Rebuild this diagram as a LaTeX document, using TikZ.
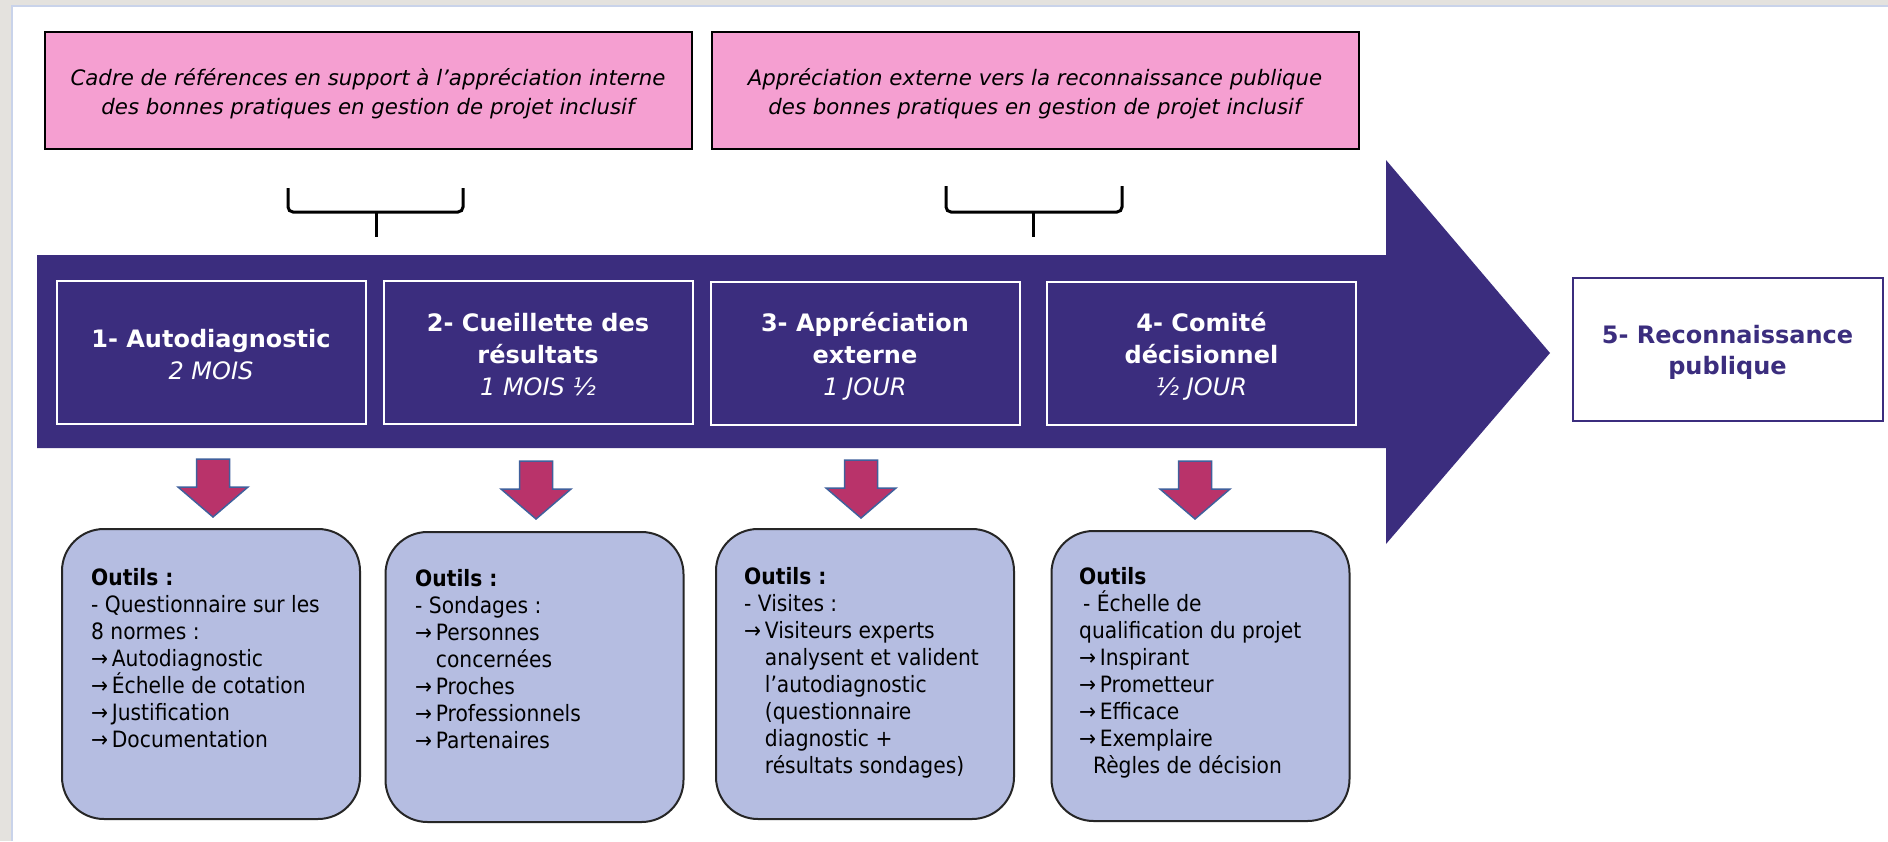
\documentclass[tikz,border=0pt]{standalone}
\usepackage{fontspec}
\setmainfont{DejaVu Sans}
\newfontfamily\condfont{DejaVu Sans Condensed}
\definecolor{pinkfill}{HTML}{F59FD1}
\definecolor{purp}{HTML}{3B2D7E}
\definecolor{toolfill}{HTML}{B5BDE1}
\definecolor{arrowred}{HTML}{B9336A}
\definecolor{arrowedge}{HTML}{40609C}
\definecolor{framegrey}{HTML}{E4E2DE}
\definecolor{frameline}{HTML}{C9D3EA}
\tikzset{
  pinkbox/.style={draw=black, line width=2pt, fill=pinkfill, minimum width=647pt, minimum height=117pt, align=center,
    font=\fontsize{21.3}{28.5}\selectfont\itshape},
  stepbox/.style={draw=white, line width=2pt, fill=purp, minimum width=309pt, minimum height=143pt, align=center, text=white,
    font=\fontsize{24}{32}\selectfont},
  finalbox/.style={draw=purp, line width=2pt, fill=white, minimum width=310pt, minimum height=143pt, align=center, text=purp,
    font=\fontsize{24}{31}\selectfont\bfseries},
  toolbox/.style={draw=black!85, line width=2pt, fill=toolfill, rounded corners=42pt, minimum width=298pt, minimum height=290pt},
  tooltext/.style={anchor=north west, inner sep=0pt, align=left, font=\condfont\fontsize{22.5}{27}\selectfont},
  bracepath/.style={draw=black, line width=3pt, rounded corners=5pt},
  downarr/.pic={\filldraw[fill=arrowred, draw=arrowedge, line width=1.5pt, line join=miter]
     (-16.5,0) -- (16.5,0) -- (16.5,28) -- (35,28) -- (0,58) -- (-35,28) -- (-16.5,28) -- cycle;}
}
\newcommand{\ind}{\phantom{→\,}}
\begin{document}
\begin{tikzpicture}[x=1pt,y=-1pt]
\useasboundingbox (0,0) rectangle (1888,841);
\fill[framegrey] (0,0) rectangle (1888,841);
\fill[white] (12,6) rectangle (1888,841);
\draw[frameline, line width=1.5pt] (12,841) -- (12,6) -- (1888,6);

% top pink boxes
\node[pinkbox] (ref1) at (368,90.5) {};
\node[pinkbox, draw=none, fill=none] (ref1t) at (368,93.5) {Cadre de références en support à l’appréciation interne\\des bonnes pratiques en gestion de projet inclusif};
\node[pinkbox] (ref2) at (1035,90.5) {};
\node[pinkbox, draw=none, fill=none] (ref2t) at (1035,93.5) {Appréciation externe vers la reconnaissance publique\\des bonnes pratiques en gestion de projet inclusif};

% braces
\coordinate (b1l) at (288,188); \coordinate (b1r) at (463,188); \coordinate (b1s) at (376,237);
\coordinate (b2l) at (946,186); \coordinate (b2r) at (1122,186); \coordinate (b2s) at (1033,237);
\draw[bracepath] (b1l) -- (288,212) -- (463,212) -- (b1r);
\draw[draw=black, line width=3pt] (376,211) -- (b1s);
\draw[bracepath] (b2l) -- (946,212) -- (1122,212) -- (b2r);
\draw[draw=black, line width=3pt] (1033,211) -- (b2s);

% big arrow
\fill[purp] (37,255) -- (1386,255) -- (1386,160) -- (1550,353) -- (1386,544) -- (1386,448) -- (37,448) -- cycle;

% step boxes
\node[stepbox] (s1) at (211,352) {};
\node[stepbox] (s2) at (538,352) {};
\node[stepbox] (s3) at (865,353) {};
\node[stepbox] (s4) at (1201.5,353) {};
\node[stepbox, draw=none, fill=none] (s1t) at (211,355) {\textbf{1- Autodiagnostic}\\\textit{2 MOIS}};
\node[stepbox, draw=none, fill=none] (s2t) at (538,355) {\textbf{2- Cueillette des}\\\textbf{résultats}\\\textit{1 MOIS ½}};
\node[stepbox, draw=none, fill=none] (s3t) at (865,356) {\textbf{3- Appréciation}\\\textbf{externe}\\\textit{1 JOUR}};
\node[stepbox, draw=none, fill=none] (s4t) at (1201.5,356) {\textbf{4- Comité}\\\textbf{décisionnel}\\\textit{½ JOUR}};
\node[finalbox] (s5) at (1727.5,349) {};
\node[finalbox, draw=none, fill=none] (s5t) at (1727.5,352.5) {5- Reconnaissance\\publique};

% down arrows
\pic at (213,459) {downarr};
\pic at (536,461) {downarr};
\pic at (861,460) {downarr};
\pic at (1195,461) {downarr};

% tool boxes
\node[toolbox] (t1) at (211,674) {};
\node[toolbox] (t2) at (534.5,677) {};
\node[toolbox] (t3) at (865,674) {};
\node[toolbox] (t4) at (1200.5,676) {};

\node[tooltext] (tx1) at (91,568) {\textbf{Outils :}\\- Questionnaire sur les\\8 normes :\\→\,Autodiagnostic\\→\,Échelle de cotation\\→\,Justification\\→\,Documentation};
\node[tooltext] (tx2) at (415,569) {\textbf{Outils :}\\- Sondages :\\→\,Personnes\\\ind concernées\\→\,Proches\\→\,Professionnels\\→\,Partenaires};
\node[tooltext] (tx3) at (744,567) {\textbf{Outils :}\\- Visites :\\→\,Visiteurs experts\\\ind analysent et valident\\\ind l’autodiagnostic\\\ind (questionnaire\\\ind diagnostic +\\\ind résultats sondages)};
\node[tooltext] (tx4) at (1079,567) {\textbf{Outils}\\\hspace*{4pt}- Échelle de\\qualification du projet\\→\,Inspirant\\→\,Prometteur\\→\,Efficace\\→\,Exemplaire\\\hspace*{14pt}Règles de décision};
\end{tikzpicture}
\end{document}
